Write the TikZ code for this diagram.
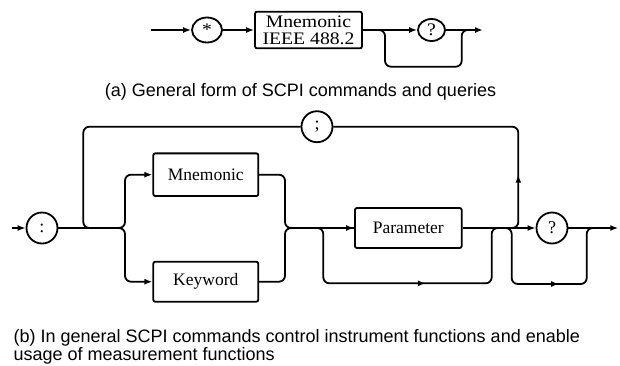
\documentclass[tikz,border=0pt]{standalone}
\usepackage{fontspec}
\setmainfont{Liberation Serif}
\newfontfamily\capfont{Liberation Sans}
\newfontfamily\topfont[FakeStretch=1.12]{Liberation Serif}
\usetikzlibrary{arrows.meta,decorations.markings,shapes.geometric}
\begin{document}
\begin{tikzpicture}[x=1pt,y=-1pt,line width=1.8pt,
  >={Latex[length=8pt,width=6pt]},
  boxnode/.style={draw,rounded corners=2pt,minimum width=105pt,minimum height=40pt,inner sep=0pt,font=\fontsize{17.5}{20}\selectfont},
  circnode/.style={draw,circle,minimum size=31pt,inner sep=0pt,font=\fontsize{18}{20}\selectfont},
  ellnode/.style={draw,ellipse,inner sep=0pt,font=\topfont\fontsize{17.6}{20}\selectfont},
  roundpath/.style={rounded corners=6pt},
  midarrow/.style={postaction={decorate},decoration={markings,mark=at position #1 with {\arrow{>}}}},
  captext/.style={anchor=base west,inner sep=0pt,font=\capfont\fontsize{18}{18}\selectfont}]
\useasboundingbox (0,0) rectangle (620,365);
% ---------- (a) ----------
\coordinate (a0) at (151,30);
\node[ellnode,minimum width=30pt,minimum height=25pt] (star) at (207,30) {\raisebox{-2.5pt}{*}};
\node[boxnode,minimum width=107pt,minimum height=36.6pt,align=center,font=\topfont\fontsize{17.6}{16.7}\selectfont] (mnem1) at (308.5,30) {Mnemonic\\IEEE 488.2};
\node[ellnode,minimum width=27pt,minimum height=22pt] (q1) at (431.5,30) {?};
\coordinate (a1) at (483,30);
\coordinate (t1) at (372,30);
\coordinate (t2) at (385,66.7);
\coordinate (t3) at (461.7,66.7);
\coordinate (t4) at (472,30);
\draw[->] (a0) -- (star);
\draw[->] (star) -- (mnem1);
\draw[->] (mnem1) -- (q1);
\draw[->] (q1) -- (a1);
\draw[roundpath] (t1) -| (t2) -- (t3) |- (t4);
\node[captext] (capa) at (104,96) {(a) General form of SCPI commands and queries};
% ---------- (b) ----------
\coordinate (e0) at (11.7,228);
\node[circnode] (colon) at (42,228) {:};
\node[circnode] (semi) at (317,126.7) {;};
\node[boxnode,minimum height=42.7pt] (mnem2) at (205.8,174.7) {Mnemonic};
\node[boxnode] (kw) at (205.8,281.7) {Keyword};
\node[boxnode,minimum width=106.7pt] (par) at (408.3,228) {Parameter};
\node[circnode] (q2) at (552,228) {?};
\coordinate (e1) at (618.3,228);
\coordinate (sp) at (125,228);
\coordinate (mg) at (285,228);
\coordinate (lp) at (83.3,228);
\coordinate (lpe) at (100,228);
\coordinate (rp0) at (505,228);
\coordinate (rp) at (518.3,228);
\coordinate (rpt) at (518.3,126.7);
\coordinate (pb0) at (310,228);
\coordinate (pb1) at (323.3,283.3);
\coordinate (pb2) at (491.7,283.3);
\coordinate (pb3) at (505,228);
\coordinate (qb0) at (500,228);
\coordinate (qb1) at (511.7,284);
\coordinate (qb2) at (586.7,284);
\coordinate (qb3) at (598,228);
\draw[->] (e0) -- (colon);
\draw[roundpath,->] (colon.east) -- (sp) |- (mnem2.west);
\draw[roundpath,->] (colon.east) -- (sp) |- (kw.west);
\draw[roundpath,->] (mnem2.east) -| (mg) -- (par.west);
\draw[roundpath] (kw.east) -| (mg) -- (par.west);
\draw[roundpath,midarrow=64pt] (rp0) -- (rp) -- (rpt) -- (semi.east);
\draw[roundpath] (semi.west) -| (lp) -- (lpe);
\draw[->] (par.east) -- (q2.west);
\draw[->] (q2.east) -- (e1);
\draw[roundpath,midarrow=166pt] (pb0) -| (pb1) -- (pb2) |- (pb3);
\draw[roundpath,midarrow=110pt] (qb0) -| (qb1) -- (qb2) |- (qb3);
\node[captext] (capb1) at (12.7,342) {(b) In general SCPI commands control instrument functions and enable};
\node[captext] (capb2) at (12.7,360) {usage of measurement functions};
\end{tikzpicture}
\end{document}
